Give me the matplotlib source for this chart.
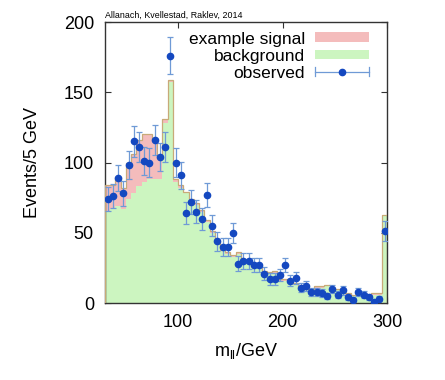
import numpy as np
import matplotlib
matplotlib.use("Agg")
import matplotlib.pyplot as plt
from matplotlib.patches import Patch
from matplotlib.lines import Line2D
from matplotlib.legend_handler import HandlerBase

plt.rcParams['font.family'] = ['Liberation Sans', 'DejaVu Sans']
plt.rcParams['mathtext.fontset'] = 'custom'
plt.rcParams['mathtext.rm'] = 'Liberation Sans'

# 5 GeV bins from 30 to 300 GeV
mass_edges = list(range(30, 305, 5))

background = [65, 67, 69, 67, 74, 78, 83, 86, 88, 88, 88, 128, 157,
              86, 82, 78, 73, 70, 65, 58, 50, 43, 37, 35, 33, 35,
              30, 28, 25, 25, 22, 21, 21, 16, 16, 14, 13, 10, 9, 9,
              11, 11, 12, 9, 9, 8, 6, 5, 6, 4, 5, 6, 6, 62]

signal = [19, 17, 21, 15, 26, 28, 33, 34, 32, 29, 16, 3, 2,
          2, 2, 1, 1, 1, 1, 1, 1, 1, 1, 1, 1, 1.5,
          1, 1, 1, 1, 1, 1, 1.5, 1, 1, 1, 1, 1, 1, 1,
          1, 1, 1, 1, 1, 1, 1, 1, 1, 1, 1, 1, 1, 1]

observed = [74, 76, 89, 78, 98, 115, 111, 101, 100, 116, 104, 111, 176,
            100, 91, 64, 72, 65, 60, 77, 55, 44, 40, 40, 50, 28,
            30, 30, 27, 27, 21, 17, 17, 20, 27, 16, 18, 11, 12, 8,
            8, 7, 5, 10, 6, 9, 4, 2, 8, 6, 4, 1, 3, 51]

edges = np.array(mass_edges, dtype=float)
centers = 0.5 * (edges[:-1] + edges[1:])
bg = np.array(background, dtype=float)
total = bg + np.array(signal, dtype=float)
obs = np.array(observed, dtype=float)
obs_err = np.sqrt(obs)

pink = '#f4bcbc'
green = '#ccf5c0'
tan = '#c8aa78'
blue_pt = '#1448c0'
blue_err = '#6f9ad6'


class HorizErrHandler(HandlerBase):
    def create_artists(self, legend, orig_handle, xdescent, ydescent,
                       width, height, fontsize, trans):
        y = height / 2.0 - ydescent
        x0, x1 = -xdescent, -xdescent + width
        cap = height * 0.45
        line = Line2D([x0, x1], [y, y], color=blue_err, lw=0.9)
        c0 = Line2D([x0, x0], [y - cap, y + cap], color=blue_err, lw=0.9)
        c1 = Line2D([x1, x1], [y - cap, y + cap], color=blue_err, lw=0.9)
        pt = Line2D([(x0 + x1) / 2], [y], marker='o', ms=4.5,
                    mfc=blue_pt, mec=blue_pt, ls='none')
        arts = [line, c0, c1, pt]
        for a in arts:
            a.set_transform(trans)
        return arts


fig = plt.figure(figsize=(4.45, 3.8), dpi=100)
ax = fig.add_axes([0.236, 0.2026, 0.634, 0.7394])

ax.stairs(total, edges, fill=True, color=pink, zorder=1)
ax.stairs(bg, edges, fill=True, color=green, zorder=2)
ax.stairs(total, edges, fill=False, color=tan, lw=0.9, zorder=3)

ax.errorbar(centers, obs, yerr=obs_err, fmt='o', ms=4.5,
            mfc=blue_pt, mec=blue_pt, ecolor=blue_err,
            elinewidth=0.9, capsize=2.4, capthick=0.9, zorder=4)

ax.set_xlim(30, 300)
ax.set_ylim(0, 200)
ax.set_xticks([100, 200, 300])
ax.set_yticks([0, 50, 100, 150, 200])
ax.tick_params(direction='in', top=True, right=True, length=4,
               width=0.8, labelsize=13, pad=8, color='#333333')
for s in ax.spines.values():
    s.set_linewidth(1.0)
    s.set_color('#333333')

ax.set_ylabel('Events/5 GeV', fontsize=13, labelpad=16)
ax.set_xlabel(r'm$_{\mathregular{ll}}$/GeV', fontsize=13, labelpad=7)

ax.text(0.0, 1.008, 'Allanach, Kvellestad, Raklev, 2014', transform=ax.transAxes,
        fontsize=6.4, ha='left', va='bottom')

obs_handle = Line2D([], [], color=blue_err)
handles = [Patch(facecolor=pink, edgecolor='none'),
           Patch(facecolor=green, edgecolor='none'),
           obs_handle]
labels = ['example signal', 'background', 'observed']
leg = ax.legend(handles, labels, loc='upper right', bbox_to_anchor=(0.97, 1.0),
                frameon=False, markerfirst=False, fontsize=12.5,
                handlelength=3.1, handleheight=0.5, labelspacing=0.12,
                handletextpad=0.6, borderaxespad=0.15,
                handler_map={obs_handle: HorizErrHandler()})

fig.savefig('out.png', dpi=100)
